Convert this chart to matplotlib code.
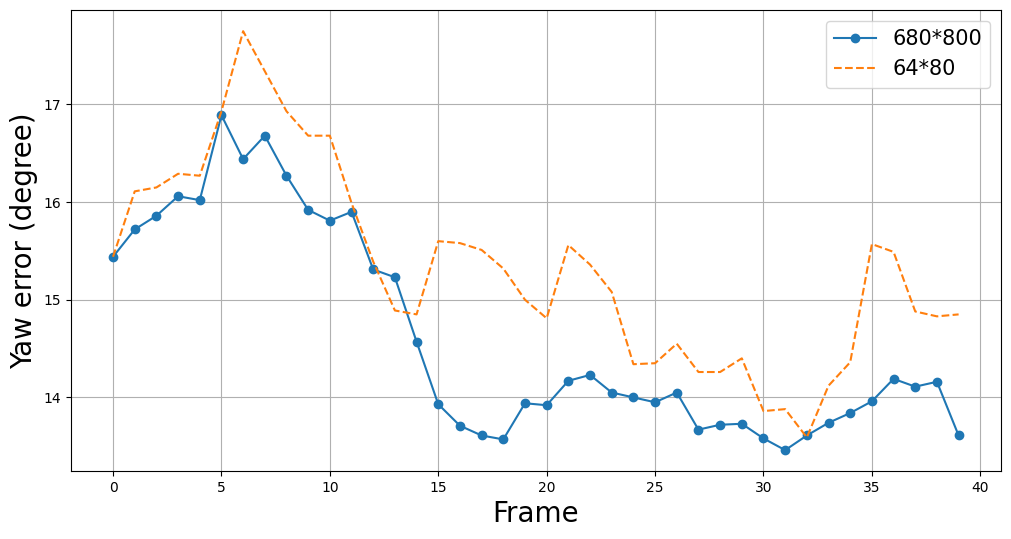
import matplotlib.pyplot as plt

# 每帧的偏航误差
frames = list(range(40))
err_680x800 = [15.44, 15.72, 15.86, 16.06, 16.02, 16.89, 16.44, 16.68, 16.27, 15.92,
               15.81, 15.90, 15.31, 15.23, 14.57, 13.93, 13.71, 13.61, 13.57, 13.94,
               13.92, 14.17, 14.23, 14.05, 14.00, 13.95, 14.05, 13.67, 13.72, 13.73,
               13.58, 13.46, 13.61, 13.74, 13.84, 13.96, 14.19, 14.11, 14.16, 13.61]
err_64x80 = [15.44, 16.11, 16.15, 16.29, 16.27, 16.93, 17.75, 17.34, 16.93, 16.68,
             16.68, 15.99, 15.39, 14.89, 14.85, 15.60, 15.58, 15.51, 15.32, 15.00,
             14.81, 15.56, 15.36, 15.08, 14.34, 14.35, 14.55, 14.26, 14.26, 14.40,
             13.86, 13.88, 13.59, 14.12, 14.36, 15.57, 15.49, 14.88, 14.83, 14.85]

fig, ax = plt.subplots(figsize=(10.11, 5.39), dpi=100)
fig.subplots_adjust(left=0.070, right=0.990, top=0.981, bottom=0.126)

ax.plot(frames, err_680x800, marker='o', label='680*800')
ax.plot(frames, err_64x80, linestyle='--', label='64*80')

ax.set_xlabel('Frame', fontsize=20)
ax.set_ylabel('Yaw error (degree)', fontsize=20)
ax.grid()
ax.legend(fontsize=15)

plt.savefig('out.png')
